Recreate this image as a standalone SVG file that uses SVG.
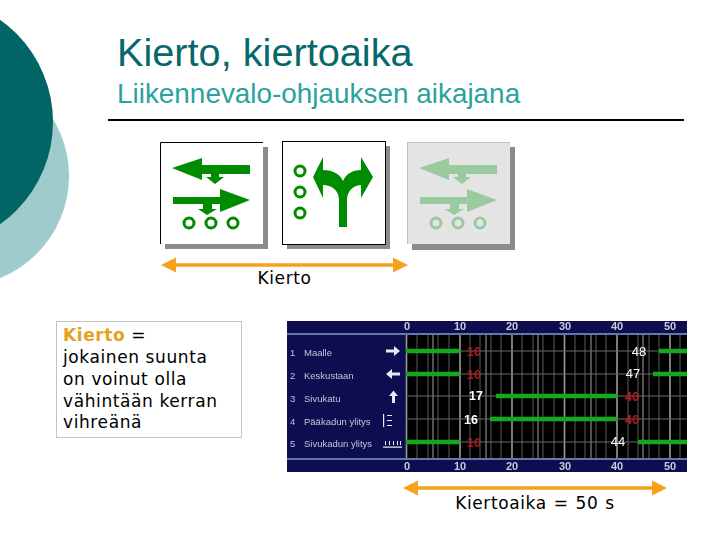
<svg xmlns="http://www.w3.org/2000/svg" width="720" height="540" viewBox="0 0 720 540">
<style>
text{font-family:"Liberation Sans",Arial,sans-serif}
.ver{font-family:"DejaVu Sans",Verdana,sans-serif;font-size:17px;fill:#000;letter-spacing:.6px}
.g{fill:#008c00}
.o{fill:none;stroke:#008c00;stroke-width:3}
.lg{fill:#9bca9f}
.lo{fill:none;stroke:#9bca9f;stroke-width:3}
.ora{fill:#f6a01e}
.or{stroke:#f6a01e;stroke-width:3.5}
.ax{font-weight:bold;font-size:11px;fill:#c8ccd8;text-anchor:middle}
.lb{font-size:9.5px;fill:#c4c8d8}
.w{font-size:13px;fill:#fff;text-anchor:middle}
.wb{font-size:12.5px;font-weight:bold;fill:#fff;text-anchor:middle}
.r{font-size:13px;font-weight:bold;fill:#b01c1c;text-anchor:middle}
.bar{stroke:#16a81c;stroke-width:4.500}
.v1{stroke:#5a5a5a;stroke-width:1}
.v5{stroke:#666;stroke-width:1.6}
.v10{stroke:#999;stroke-width:1.6}
.h{stroke:#6a6a6a;stroke-width:1}
.sh{fill:#8c8c8c}
</style>
<defs><filter id="soft" x="-2%" y="-2%" width="104%" height="104%"><feGaussianBlur stdDeviation="0.45"/></filter></defs>
<g id="background">
<circle cx="-41" cy="176" r="110" fill="#9fcbcc"/>
<circle cx="-72" cy="122" r="125" fill="#006564"/>
</g>
<g id="title">
<text x="117" y="66" font-size="39.700" fill="#05686a">Kierto, kiertoaika</text>
<text x="117" y="103" font-size="27.900" fill="#2ba29e">Liikennevalo-ohjauksen aikajana</text>
<line x1="108" y1="120" x2="684" y2="120" stroke="#000" stroke-width="2"/>
</g>
<g id="panel1">
<rect class="sh" x="165" y="147" width="103" height="102"/>
<rect x="160" y="142" width="103" height="102" fill="#fff"/>
<path d="M160.500 244V142.500H263" fill="none" stroke="#000"/>
<path class="g" d="M172 168L202 158V165H250V174H219V177H224L215 184L206 177H211V174H202V180Z"/>
<path class="g" d="M173 197H220V189L250 200L220 212V204H212V209H217L207 215L198 209H203V204H173Z"/>
<circle class="o" cx="189" cy="223" r="5"/><circle class="o" cx="211" cy="223" r="5"/><circle class="o" cx="233" cy="223" r="5"/>
</g>
<g id="panel2">
<rect class="sh" x="287" y="146" width="103" height="103"/>
<rect x="282.500" y="141.500" width="103" height="103" fill="#fff" stroke="#000"/>
<circle class="o" cx="300" cy="171" r="5"/><circle class="o" cx="300" cy="192" r="5"/><circle class="o" cx="300" cy="213" r="5"/>
<path class="g" d="M313 177L323 157V170C333 170 340 174 343 181C346 174 352 170 361 170V157L373 177L361 198V185C355 185 347 190 347 200V227H339V200C339 190 331 185 323 185V198Z"/>
</g>
<g id="panel3">
<rect class="sh" x="412" y="147" width="103" height="103"/>
<rect x="407" y="142" width="103" height="102" fill="#e4e4e4"/>
<path d="M407.500 244V142.500H510" fill="none" stroke="#c0c0c0"/>
<path class="lg" d="M419 168L449 158V165H497V174H466V177H471L462 184L453 177H458V174H449V180Z"/>
<path class="lg" d="M420 197H467V189L497 200L467 212V204H459V209H464L454 215L445 209H450V204H420Z"/>
<circle class="lo" cx="436" cy="223" r="5"/><circle class="lo" cx="458" cy="223" r="5"/><circle class="lo" cx="480" cy="223" r="5"/>
</g>
<g id="connectors">
<line class="or" x1="170" y1="265" x2="400" y2="265"/>
<path class="ora" d="M161 265L176 257.500V272.500ZM408 265L393 257.500V272.500Z"/>
<line class="or" x1="412" y1="488" x2="658" y2="488"/>
<path class="ora" d="M403 488L418 480.500V495.500ZM667 488L652 480.500V495.500Z"/>
</g>
<g id="label-kierto">
<text class="ver" x="284.500" y="284" text-anchor="middle">Kierto</text>
</g>
<g id="definition">
<rect x="56.500" y="321.500" width="185" height="116" fill="#fff" stroke="#c4c4c4"/>
<text class="ver" x="63" y="341"><tspan fill="#e8a020" font-weight="bold">Kierto</tspan> =</text>
<text class="ver" x="63" y="363">jokainen suunta</text>
<text class="ver" x="63" y="385">on voinut olla</text>
<text class="ver" x="63" y="407">vähintään kerran</text>
<text class="ver" x="63" y="428">vihreänä</text>
</g>
<g id="chart" filter="url(#soft)">
<rect x="287" y="321" width="400" height="151" fill="#0a0a50"/>
<rect x="406" y="335" width="281" height="124" fill="#000"/>
<g>
<path class="v1" d="M417 335V459M428 335V459M438 335V459M449 335V459M470 335V459M480 335V459M491 335V459M501 335V459M522 335V459M533 335V459M543 335V459M554 335V459M575 335V459M585 335V459M596 335V459M606 335V459M628 335V459M638 335V459M649 335V459M659 335V459M680 335V459"/>
<path class="v5" d="M433 335V459M486 335V459M538 335V459M591 335V459M643 335V459"/>
<path class="v10" d="M406.500 335V459M460 335V459M512 335V459M564.500 335V459M617 335V459M670 335V459"/>
<path class="h" d="M406 351H687M406 374H687M406 396H687M406 419H687M406 442H687"/>
</g>
<rect x="287" y="333" width="400" height="2" fill="#5f7aa8"/>
<rect x="287" y="458" width="400" height="2" fill="#5f7aa8"/>
<g>
<text class="ax" x="407" y="330">0</text><text class="ax" x="460" y="330">10</text><text class="ax" x="512" y="330">20</text><text class="ax" x="565" y="330">30</text><text class="ax" x="617" y="330">40</text><text class="ax" x="670" y="330">50</text>
<text class="ax" x="407" y="470">0</text><text class="ax" x="460" y="470">10</text><text class="ax" x="512" y="470">20</text><text class="ax" x="565" y="470">30</text><text class="ax" x="617" y="470">40</text><text class="ax" x="670" y="470">50</text>
</g>
<g>
<text class="lb" x="290" y="356">1</text><text class="lb" x="304" y="356">Maalle</text>
<text class="lb" x="290" y="379">2</text><text class="lb" x="304" y="379">Keskustaan</text>
<text class="lb" x="290" y="402">3</text><text class="lb" x="304" y="402">Sivukatu</text>
<text class="lb" x="290" y="425">4</text><text class="lb" x="304" y="425">Pääkadun ylitys</text>
<text class="lb" x="290" y="447">5</text><text class="lb" x="304" y="447">Sivukadun ylitys</text>
</g>
<g fill="#e8e8f0">
<path d="M386 349.500H394V346L400 351L394 356V352.500H386Z"/>
<path d="M400 372.500H392V369L386 374L392 379V375.500H400Z"/>
<path d="M392 403V396H389L393.500 390.500L398 396H395V403Z"/>
<path d="M383 414H384.200V427H383ZM387 415H392V416H387ZM387 420H392V421H387ZM387 425H392V426H387Z"/>
<path d="M383 446.500H402V447.700H383ZM385 441H386V445H385ZM389 441H390V445H389ZM393 441H394V445H393ZM397 441H398V445H397ZM400 441H401V445H400Z"/>
</g>
<g>
<line class="bar" x1="406" y1="351" x2="460" y2="351"/>
<line class="bar" x1="406" y1="374" x2="460" y2="374"/>
<line class="bar" x1="406" y1="442" x2="460" y2="442"/>
<line class="bar" x1="659" y1="351" x2="687" y2="351"/>
<line class="bar" x1="653" y1="374" x2="687" y2="374"/>
<line class="bar" x1="496" y1="396" x2="617" y2="396"/>
<line class="bar" x1="490" y1="419" x2="617" y2="419"/>
<line class="bar" x1="638" y1="442" x2="687" y2="442"/>
</g>
<g>
<text class="r" x="474" y="356">10</text><text class="r" x="474" y="379">10</text><text class="r" x="474" y="447">10</text>
<text class="wb" x="476" y="400">17</text><text class="wb" x="471" y="424">16</text>
<text class="w" x="639" y="356">48</text><text class="w" x="633" y="378">47</text><text class="w" x="618" y="446">44</text>
<text class="r" x="632" y="401">40</text><text class="r" x="632" y="424">40</text>
</g>
</g>
<g id="label-kiertoaika">
<text class="ver" x="535" y="509" text-anchor="middle" word-spacing="1">Kiertoaika = 50 s</text>
</g>
</svg>
